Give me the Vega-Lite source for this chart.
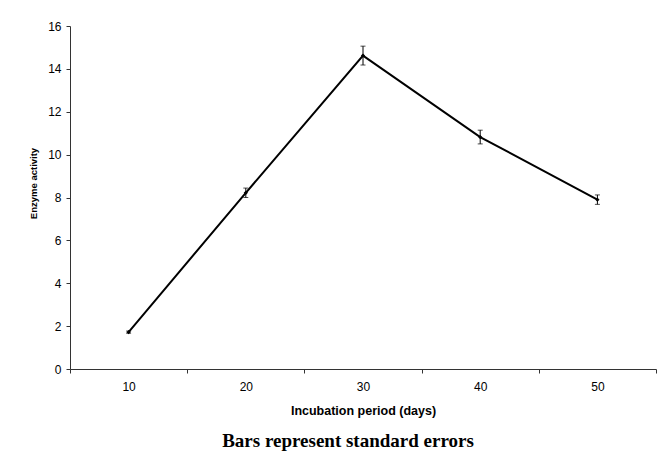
{
  "$schema": "https://vega.github.io/schema/vega-lite/v6.json",
  "width": 586,
  "height": 343,
  "autosize": {"type": "none"},
  "padding": {"left": 70, "top": 26, "right": 14, "bottom": 85},
  "background": "white",
  "config": {
    "view": {"stroke": null},
    "font": "Liberation Sans"
  },
  "title": {
    "text": "Bars represent standard errors",
    "orient": "bottom",
    "font": "Liberation Serif",
    "fontSize": 19,
    "fontWeight": "bold",
    "color": "black",
    "offset": 15,
    "dx": -15
  },
  "data": {
    "values": [
      {"days": 10, "activity": 1.72, "se": 0.05},
      {"days": 20, "activity": 8.22, "se": 0.22},
      {"days": 30, "activity": 14.62, "se": 0.44},
      {"days": 40, "activity": 10.82, "se": 0.32},
      {"days": 50, "activity": 7.9, "se": 0.22}
    ]
  },
  "encoding": {
    "x": {
      "field": "days",
      "type": "quantitative",
      "scale": {"domain": [5, 55], "nice": false, "zero": false},
      "axis": {
        "title": "Incubation period (days)",
        "values": [5, 10, 15, 20, 25, 30, 35, 40, 45, 50, 55],
        "labelExpr": "datum.value % 10 === 0 ? datum.label : ''",
        "tickOpacity": {"expr": "datum.value % 10 === 0 ? 0 : 1"},
        "grid": false,
        "domainColor": "#333",
        "tickColor": "#333",
        "tickSize": 4,
        "labelPadding": 8,
        "labelFontSize": 12,
        "labelColor": "black",
        "labelFlush": false,
        "titleFontSize": 12.5,
        "titleFontWeight": "bold",
        "titleColor": "black",
        "titlePadding": 12
      }
    },
    "y": {
      "field": "activity",
      "type": "quantitative",
      "scale": {"domain": [0, 16], "nice": false},
      "axis": {
        "title": "Enzyme activity",
        "values": [0, 2, 4, 6, 8, 10, 12, 14, 16],
        "grid": false,
        "domainColor": "#333",
        "tickColor": "#333",
        "tickSize": 4,
        "labelPadding": 5,
        "labelFontSize": 12,
        "labelColor": "black",
        "titleFontSize": 9.5,
        "titleFontWeight": "bold",
        "titleColor": "black",
        "titlePadding": 9,
        "titleY": 157
      }
    }
  },
  "layer": [
    {
      "mark": {"type": "line", "color": "black", "strokeWidth": 2}
    },
    {
      "mark": {"type": "point", "filled": true, "color": "black", "size": 18, "shape": "diamond", "opacity": 1}
    },
    {
      "mark": {"type": "errorbar", "color": "black", "ticks": {"size": 5, "color": "black"}, "rule": {"strokeWidth": 1}},
      "encoding": {
        "y": {"field": "activity", "type": "quantitative"},
        "yError": {"field": "se"}
      }
    }
  ]
}
